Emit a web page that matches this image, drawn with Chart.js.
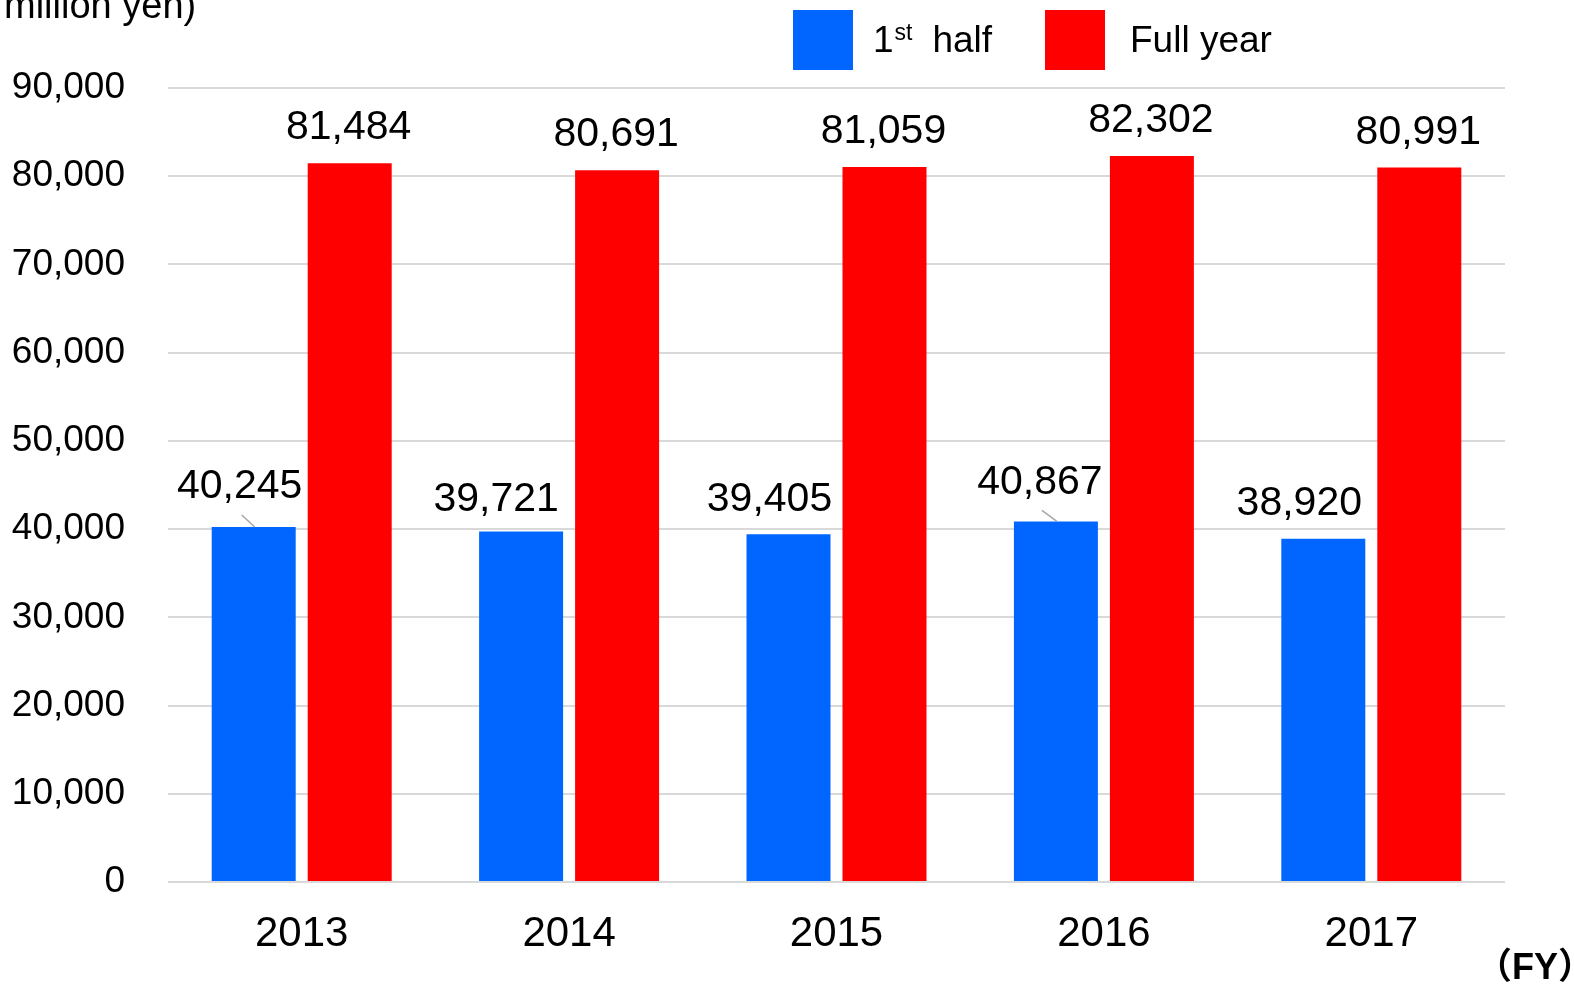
<!DOCTYPE html>
<html>
<head>
<meta charset="utf-8">
<script src="https://cdn.jsdelivr.net/npm/chart.js@4/dist/chart.umd.min.js"></script>
<style>
  html, body { margin: 0; padding: 0; background: #fff; }
  #wrap { width: 1574px; height: 987px; }
</style>
</head>
<body>
<div id="wrap"><canvas id="sales-chart"></canvas></div>
<script>
const years = ['2013', '2014', '2015', '2016', '2017'];
const firstHalf = [40245, 39721, 39405, 40867, 38920];
const fullYear = [81484, 80691, 81059, 82302, 80991];
const seriesNames = ['1st half', 'Full year'];
const yTicks = [0, 10000, 20000, 30000, 40000, 50000, 60000, 70000, 80000, 90000];

const FONT = '"Liberation Sans", Arial, sans-serif';
const fmt = v => v.toLocaleString('en-US');

// nudges for the first-half labels (they sit left of the bar, some with a leader line)
const halfLabelShift = [-14, -25, -19, -16, -24];
const halfLabelLift = [40, 32, 35, 39, 35];
const halfLeader = [true, false, false, true, false];

const extras = {
    id: 'extras',
    afterDatasetsDraw(chart) {
        const ctx = chart.ctx;
        ctx.save();
        ctx.fillStyle = '#000';
        ctx.textAlign = 'center';
        ctx.textBaseline = 'middle';
        ctx.font = '41px ' + FONT;

        chart.getDatasetMeta(0).data.forEach((bar, i) => {
            const x = bar.x + halfLabelShift[i];
            const y = bar.y - halfLabelLift[i];
            ctx.fillText(fmt(firstHalf[i]), x, y);
            if (halfLeader[i]) {
                ctx.strokeStyle = '#a6a6a6';
                ctx.lineWidth = 1.5;
                ctx.beginPath();
                ctx.moveTo(x + 2, y + 28);
                ctx.lineTo(bar.x + 1, bar.y);
                ctx.stroke();
            }
        });
        chart.getDatasetMeta(1).data.forEach((bar, i) => {
            ctx.fillText(fmt(fullYear[i]), bar.x - 1, bar.y - 35);
        });

        // unit label (cut at the top edge)
        ctx.textAlign = 'left';
        ctx.textBaseline = 'alphabetic';
        ctx.font = '38px ' + FONT;
        ctx.fillText('million yen)', 4, 18);

        // fiscal year marker
        ctx.textAlign = 'right';
        ctx.textBaseline = 'middle';
        ctx.font = 'bold 36px "Liberation Sans", "Noto Sans CJK JP", sans-serif';
        ctx.fillText('（FY）', 1594, 969);

        // legend
        const boxes = [{ x: 793, color: chart.data.datasets[0].backgroundColor },
                       { x: 1045, color: chart.data.datasets[1].backgroundColor }];
        boxes.forEach((b, k) => {
            ctx.fillStyle = b.color;
            ctx.fillRect(b.x, 10, 60, 60);
            ctx.fillStyle = '#000';
            ctx.textAlign = 'left';
            ctx.textBaseline = 'alphabetic';
            const name = seriesNames[k];
            const m = name.match(/^(\d+)(st|nd|rd|th)\s*(.*)$/);
            let tx = b.x + 80;
            if (m) {
                ctx.font = '37px ' + FONT;
                ctx.fillText(m[1], tx, 52);
                tx += ctx.measureText(m[1]).width + 1;
                ctx.font = '23px ' + FONT;
                ctx.fillText(m[2], tx, 40);
                tx += ctx.measureText(m[2]).width + 20;
                ctx.font = '37px ' + FONT;
                ctx.fillText(m[3], tx, 52);
            } else {
                ctx.font = '37px ' + FONT;
                ctx.fillText(name, b.x + 85, 52);
            }
        });
        ctx.restore();
    }
};

document.addEventListener('DOMContentLoaded', () => {
    const ctx = document.getElementById('sales-chart').getContext('2d');
    new Chart(ctx, {
        type: 'bar',
        data: {
            labels: years,
            datasets: [
                {
                    label: seriesNames[0],
                    data: firstHalf,
                    backgroundColor: '#0066ff',
                },
                {
                    label: seriesNames[1],
                    data: fullYear,
                    backgroundColor: '#ff0000',
                },
            ],
        },
        options: {
            responsive: true,
            maintainAspectRatio: false,
            animation: false,
            layout: { padding: { top: 88, right: 69, left: 0, bottom: 0 } },
            datasets: {
                bar: { categoryPercentage: 0.718, barPercentage: 0.875, borderWidth: 0 },
            },
            plugins: {
                legend: { display: false },
                tooltip: { enabled: false },
            },
            scales: {
                x: {
                    grid: { display: false, drawTicks: false },
                    border: { display: false },
                    ticks: { color: '#000', font: { family: FONT, size: 42 }, padding: 27 },
                    afterFit: s => { s.height = 105; },
                },
                y: {
                    min: 0,
                    max: 90000,
                    afterBuildTicks: s => { s.ticks = yTicks.map(v => ({ value: v })); },
                    grid: { color: '#d9d9d9', lineWidth: 2, drawTicks: false },
                    border: { display: false },
                    ticks: {
                        color: '#000',
                        font: { family: FONT, size: 37 },
                        padding: 43,
                        callback: v => fmt(v),
                    },
                    afterFit: s => { s.width = 168; },
                },
            },
        },
        plugins: [extras],
    });
});
</script>
</body>
</html>
